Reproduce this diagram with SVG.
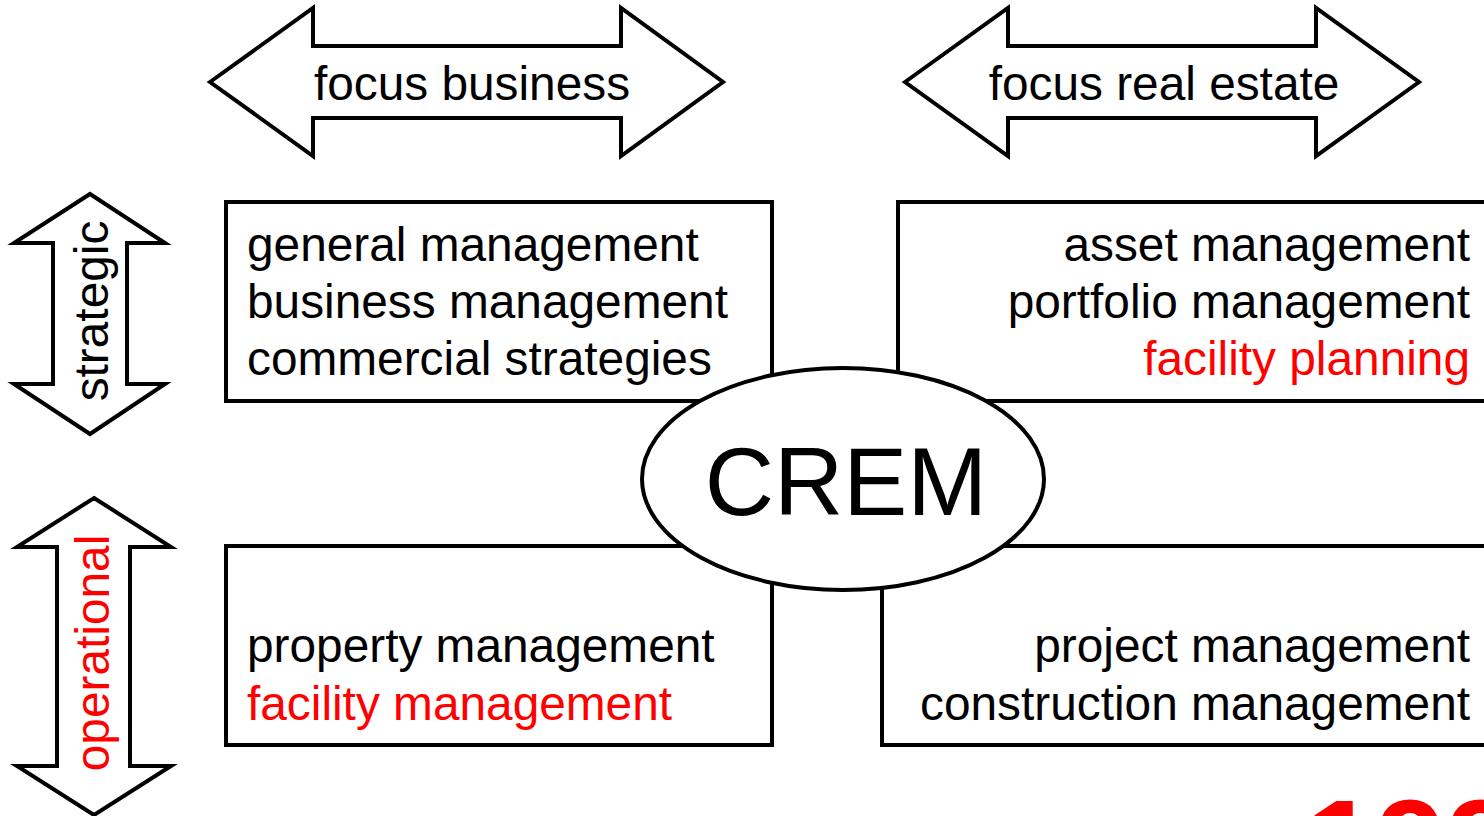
<svg xmlns="http://www.w3.org/2000/svg" width="1484" height="816" viewBox="0 0 1484 816">
<style>
.shape{fill:#fff;stroke:#000;stroke-width:4}
.t{font-family:"Liberation Sans",Arial,sans-serif;font-size:47.8px;fill:#000}
.red{fill:#ff0000}
.end{text-anchor:end}
.mid{text-anchor:middle}
</style>
<rect width="1484" height="816" fill="#fff"/>
<g id="arrow-focus-business">
<path class="shape" d="M210,82 L313,8 L313,46 L621,46 L621,8 L723,82 L621,156 L621,118 L313,118 L313,156 Z"/>
<text class="t mid" x="472" y="100">focus business</text>
</g>
<g id="arrow-focus-real-estate">
<path class="shape" d="M905,82 L1008,8 L1008,46 L1316,46 L1316,8 L1419,82 L1316,156 L1316,118 L1008,118 L1008,156 Z"/>
<text class="t mid" x="1164" y="100">focus real estate</text>
</g>
<g id="arrow-strategic">
<path class="shape" d="M90,194 L165,243 L127,243 L127,384 L165,384 L90,434 L14,384 L53,384 L53,243 L14,243 Z"/>
<text class="t mid" transform="translate(108,311) rotate(-90)">strategic</text>
</g>
<g id="arrow-operational">
<path class="shape" d="M94,498 L171,547 L130,547 L130,766 L171,766 L94,815 L17,766 L57,766 L57,547 L17,547 Z"/>
<text class="t mid red" transform="translate(109,653) rotate(-90)">operational</text>
</g>
<g id="box-business-strategic">
<rect class="shape" x="226" y="202" width="546" height="199"/>
<text class="t" x="247" y="261">general management</text>
<text class="t" x="247" y="318">business management</text>
<text class="t" x="247" y="375">commercial strategies</text>
</g>
<g id="box-realestate-strategic">
<rect class="shape" x="898" y="202" width="600" height="199"/>
<text class="t end" x="1470" y="261">asset management</text>
<text class="t end" x="1470" y="318">portfolio management</text>
<text class="t end red" x="1470" y="375">facility planning</text>
</g>
<g id="box-business-operational">
<rect class="shape" x="226" y="546" width="546" height="199"/>
<text class="t" x="247" y="662">property management</text>
<text class="t red" x="247" y="720">facility management</text>
</g>
<g id="box-realestate-operational">
<rect class="shape" x="882" y="546" width="616" height="199"/>
<text class="t end" x="1470" y="662">project management</text>
<text class="t end" x="1470" y="720">construction management</text>
</g>
<g id="crem">
<ellipse class="shape" cx="843" cy="479" rx="201" ry="111"/>
<text class="t mid" x="846" y="515" style="font-size:96px">CREM</text>
</g>
<g id="year">
<text x="1306" y="888" style="font-family:'Liberation Sans',Arial,sans-serif;font-weight:bold;font-size:126px;fill:#ff0000">1999</text>
</g>
<g id="connectors"/>
</svg>
